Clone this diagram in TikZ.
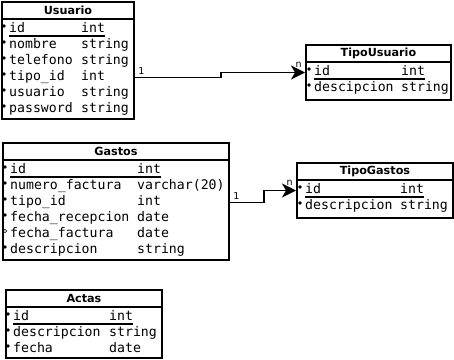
\documentclass[tikz,border=0pt]{standalone}
\usepackage{fontspec}
\setmainfont{DejaVu Sans}
\setmonofont{DejaVu Sans Mono}
\usetikzlibrary{arrows.meta}

\tikzset{
  tbl/.style={draw, line width=1.9pt, anchor=north west, inner sep=0pt},
  ttl/.style={font=\bfseries\fontsize{11.2}{13}\selectfont},
  fname/.style={anchor=west, inner sep=0pt, text height=9.5pt, text depth=3pt,
    font=\ttfamily\fontsize{13.2}{16}\selectfont},
  ftype/.style={fname},
  lbl/.style={inner sep=2.5pt, font=\fontsize{9.5}{10}\selectfont},
  rel/.style={line width=1.9pt, -{Stealth[length=14pt,width=14pt,inset=4pt]}}
}

\begin{document}
\begin{tikzpicture}[x=1pt, y=-1pt]
  \useasboundingbox (0,0) rectangle (454,359);

  % Usuario
  \node[tbl, minimum width=132, minimum height=117] (usuario) at (1,1) {};
  \node[ttl] (usuario-title) at ([yshift=-9pt]usuario.north) {Usuario};
  \draw[line width=1.4pt] ([yshift=-18pt]usuario.north west) -- ([yshift=-18pt]usuario.north east);
  \foreach \n/\t [count=\i] in {id/int, nombre/string, telefono/string,
      tipo\_id/int, usuario/string, password/string} {
    \fill (4,10+16*\i) circle (1.8);
    \node[fname] (usuario-\i) at (9,13.5+16*\i) {\n};
    \node[ftype] (usuario-t\i) at (81,13.5+16*\i) {\t};
  }
  \draw[line width=1.2pt] (usuario-1.south west) -- (usuario-t1.south east);

  % TipoUsuario
  \node[tbl, minimum width=145, minimum height=55] (tipousuario) at (305,44) {};
  \node[ttl] (tipousuario-title) at ([yshift=-9pt]tipousuario.north) {TipoUsuario};
  \draw[line width=1.4pt] ([yshift=-18pt]tipousuario.north west) -- ([yshift=-18pt]tipousuario.north east);
  \foreach \n/\t [count=\i] in {id/int, descipcion/string} {
    \fill (309,53+16*\i) circle (1.8);
    \node[fname] (tipousuario-\i) at (314,56.5+16*\i) {\n};
    \node[ftype] (tipousuario-t\i) at (401,56.5+16*\i) {\t};
  }
  \draw[line width=1.2pt] (tipousuario-1.south west) -- (tipousuario-t1.south east);

  % Gastos
  \node[tbl, minimum width=226, minimum height=117] (gastos) at (2,142) {};
  \node[ttl] (gastos-title) at ([yshift=-9pt]gastos.north) {Gastos};
  \draw[line width=1.4pt] ([yshift=-18pt]gastos.north west) -- ([yshift=-18pt]gastos.north east);
  \foreach \n/\t/\b [count=\i] in {id/int/fill, numero\_factura/varchar(20)/fill,
      tipo\_id/int/fill, fecha\_recepcion/date/fill, fecha\_factura/date/draw,
      descripcion/string/fill} {
    \path[\b, line width=0.6pt] (5,151+16*\i) circle (1.8);
    \node[fname] (gastos-\i) at (10,154.5+16*\i) {\n};
    \node[ftype] (gastos-t\i) at (137,154.5+16*\i) {\t};
  }
  \draw[line width=1.2pt] (gastos-1.south west) -- (gastos-t1.south east);

  % TipoGastos
  \node[tbl, minimum width=156, minimum height=55] (tipogastos) at (296,162) {};
  \node[ttl] (tipogastos-title) at ([yshift=-9pt]tipogastos.north) {TipoGastos};
  \draw[line width=1.4pt] ([yshift=-18pt]tipogastos.north west) -- ([yshift=-18pt]tipogastos.north east);
  \foreach \n/\t [count=\i] in {id/int, descripcion/string} {
    \fill (300,171+16*\i) circle (1.8);
    \node[fname] (tipogastos-\i) at (305,174.5+16*\i) {\n};
    \node[ftype] (tipogastos-t\i) at (400,174.5+16*\i) {\t};
  }
  \draw[line width=1.2pt] (tipogastos-1.south west) -- (tipogastos-t1.south east);

  % Actas
  \node[tbl, minimum width=156, minimum height=68] (actas) at (5,289) {};
  \node[ttl] (actas-title) at ([yshift=-9pt]actas.north) {Actas};
  \draw[line width=1.4pt] ([yshift=-18pt]actas.north west) -- ([yshift=-18pt]actas.north east);
  \foreach \n/\t [count=\i] in {id/int, descripcion/string, fecha/date} {
    \fill (8,298+16*\i) circle (1.8);
    \node[fname] (actas-\i) at (13,301.5+16*\i) {\n};
    \node[ftype] (actas-t\i) at (109,301.5+16*\i) {\t};
  }
  \draw[line width=1.2pt] (actas-1.south west) -- (actas-t1.south east);

  % relaciones
  \draw[rel] (usuario.east |- usuario-4) node[lbl, above right] {1}
    -- ++(86,0) |- (tipousuario.west |- tipousuario-1) node[lbl, above left, yshift=2pt] {n};
  \draw[rel] (gastos.east |- gastos-3) node[lbl, above right] {1}
    -- ++(34,0) |- (tipogastos.west |- tipogastos-1) node[lbl, above left, yshift=2pt] {n};
\end{tikzpicture}
\end{document}
